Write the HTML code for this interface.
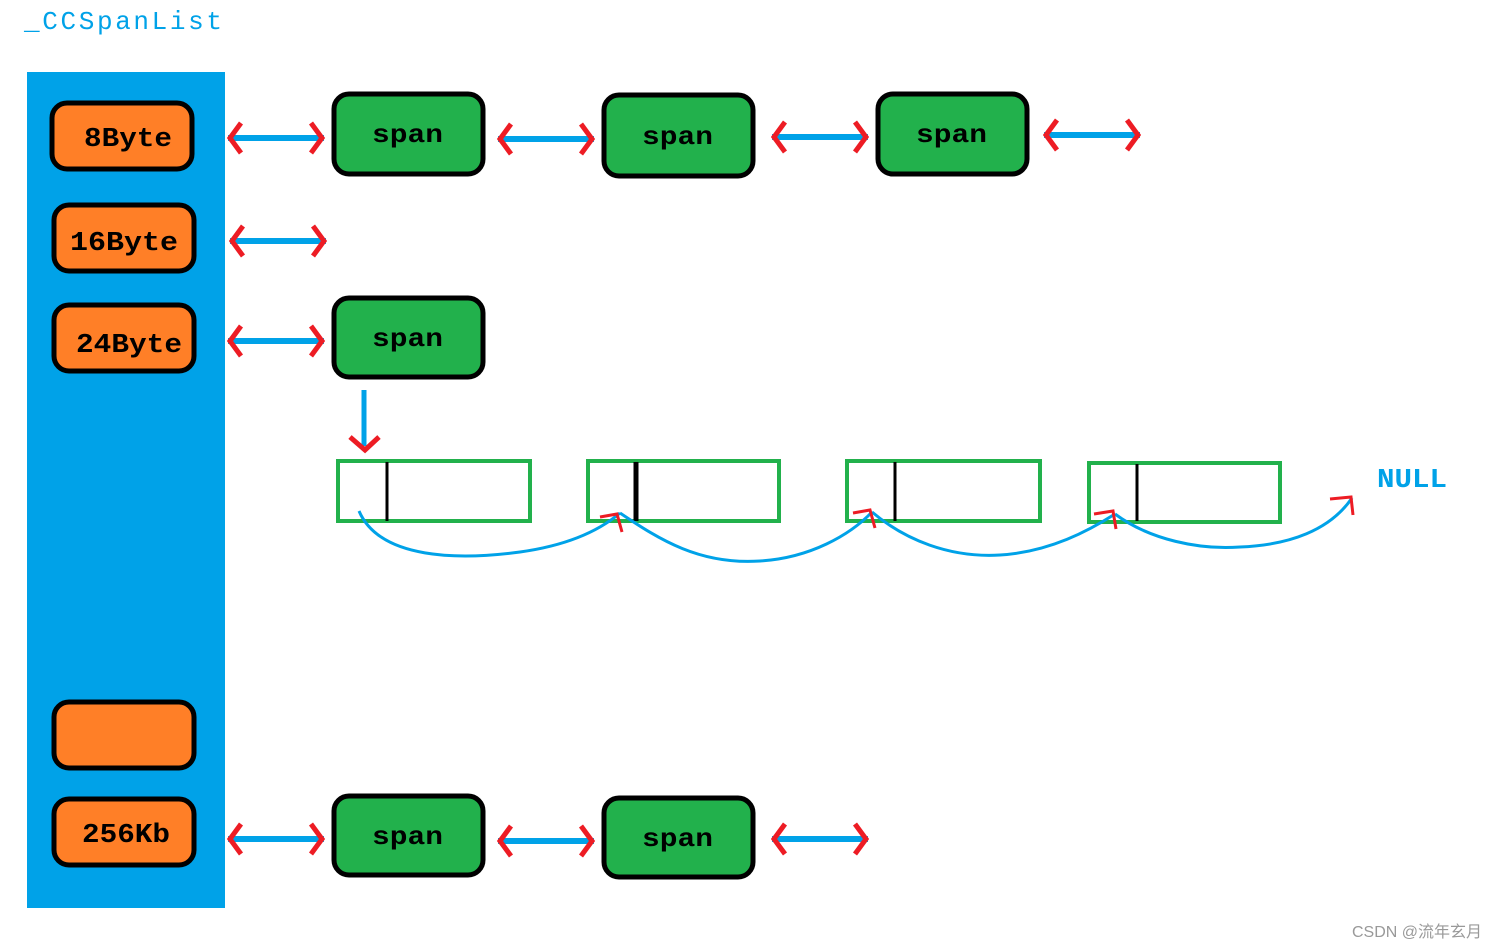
<!DOCTYPE html>
<html><head><meta charset="utf-8"><style>
html,body{margin:0;padding:0;background:#fff;}
svg{display:block}
text{font-family:"Liberation Mono",monospace;font-weight:bold;}
</style></head><body>
<svg width="1500" height="949" viewBox="0 0 1500 949" xmlns="http://www.w3.org/2000/svg">
<defs>
<g id="dbl">
  <line x1="0" y1="0" x2="96" y2="0" stroke="#00a2e8" stroke-width="6"/>
  <polyline points="13,-15 2,0 13,15" fill="none" stroke="#ed1c24" stroke-width="5"/>
  <polyline points="83,-15 94,0 83,15" fill="none" stroke="#ed1c24" stroke-width="5"/>
</g>
</defs>
<text x="24" y="29" font-size="26" fill="#00a2e8" style="font-family:'Liberation Mono',monospace;font-weight:normal" textLength="198">_CCSpanList</text>
<rect x="27" y="72" width="198" height="836" fill="#00a2e8"/>
<g stroke="#000" stroke-width="5" fill="#ff7f27">
<rect x="52" y="103" width="140" height="66" rx="15"/>
<rect x="54" y="205" width="140" height="66" rx="15"/>
<rect x="54" y="305" width="140" height="66" rx="15"/>
<rect x="54" y="702" width="140" height="66" rx="15"/>
<rect x="54" y="799" width="140" height="66" rx="15"/>
</g>
<g font-size="27" fill="#000">
<text x="84" y="146" textLength="88" lengthAdjust="spacingAndGlyphs">8Byte</text>
<text x="70" y="250" textLength="108" lengthAdjust="spacingAndGlyphs">16Byte</text>
<text x="76" y="352" textLength="106" lengthAdjust="spacingAndGlyphs">24Byte</text>
<text x="82" y="842" textLength="88" lengthAdjust="spacingAndGlyphs">256Kb</text>
</g>
<g stroke="#000" stroke-width="5" fill="#22b14c">
<rect x="334" y="94" width="149" height="80" rx="15"/>
<rect x="604" y="95" width="149" height="81" rx="15"/>
<rect x="878" y="94" width="149" height="80" rx="15"/>
<rect x="334" y="298" width="149" height="79" rx="15"/>
<rect x="334" y="796" width="149" height="79" rx="15"/>
<rect x="604" y="798" width="149" height="79" rx="15"/>
</g>
<g font-size="26" fill="#000">
<text x="372" y="142" textLength="71" lengthAdjust="spacingAndGlyphs">span</text>
<text x="642" y="144" textLength="71" lengthAdjust="spacingAndGlyphs">span</text>
<text x="916" y="142" textLength="71" lengthAdjust="spacingAndGlyphs">span</text>
<text x="372" y="346" textLength="71" lengthAdjust="spacingAndGlyphs">span</text>
<text x="372" y="844" textLength="71" lengthAdjust="spacingAndGlyphs">span</text>
<text x="642" y="846" textLength="71" lengthAdjust="spacingAndGlyphs">span</text>
</g>
<use href="#dbl" x="228" y="138"/>
<use href="#dbl" x="498" y="139"/>
<use href="#dbl" x="772" y="137"/>
<use href="#dbl" x="1044" y="135"/>
<use href="#dbl" x="230" y="241"/>
<use href="#dbl" x="228" y="341"/>
<use href="#dbl" x="228" y="839"/>
<use href="#dbl" x="498" y="841"/>
<use href="#dbl" x="772" y="839"/>
<line x1="364" y1="390" x2="364" y2="446" stroke="#00a2e8" stroke-width="5"/>
<polyline points="350,437 365,450 379,437" fill="none" stroke="#ed1c24" stroke-width="5"/>
<g fill="none" stroke="#22b14c" stroke-width="4">
<rect x="338" y="461" width="192" height="60"/>
<rect x="588" y="461" width="191" height="60"/>
<rect x="847" y="461" width="193" height="60"/>
<rect x="1089" y="463" width="191" height="59"/>
</g>
<g stroke="#000">
<line x1="387" y1="462" x2="387" y2="521" stroke-width="3"/>
<line x1="636" y1="462" x2="636" y2="521" stroke-width="5"/>
<line x1="895" y1="462" x2="895" y2="521" stroke-width="3"/>
<line x1="1137" y1="464" x2="1137" y2="521" stroke-width="3"/>
</g>
<g fill="none" stroke="#00a2e8" stroke-width="3">
<path d="M359,511 C380,560 460,560 520,552 C570,545 600,530 620,513"/>
<path d="M620,513 C660,540 700,565 760,561 C810,558 850,535 872,512"/>
<path d="M872,512 C905,540 950,558 1000,555 C1050,552 1090,530 1115,514"/>
<path d="M1115,514 C1150,540 1200,550 1240,547 C1290,545 1330,530 1352,498"/>
</g>
<g fill="none" stroke="#ed1c24" stroke-width="3">
<polyline points="600,517 617,514 622,532"/>
<polyline points="853,513 870,510 875,528"/>
<polyline points="1094,514 1113,511 1116,529"/>
<polyline points="1330,499 1351,497 1353,515"/>
</g>
<text x="1377" y="487" font-size="27" fill="#00a2e8" textLength="70" lengthAdjust="spacingAndGlyphs">NULL</text>
<text x="1352" y="937" font-size="16" fill="#999" style="font-family:'Liberation Sans','Noto Sans CJK SC',sans-serif;font-weight:normal">CSDN @流年玄月</text>
</svg>
</body></html>
